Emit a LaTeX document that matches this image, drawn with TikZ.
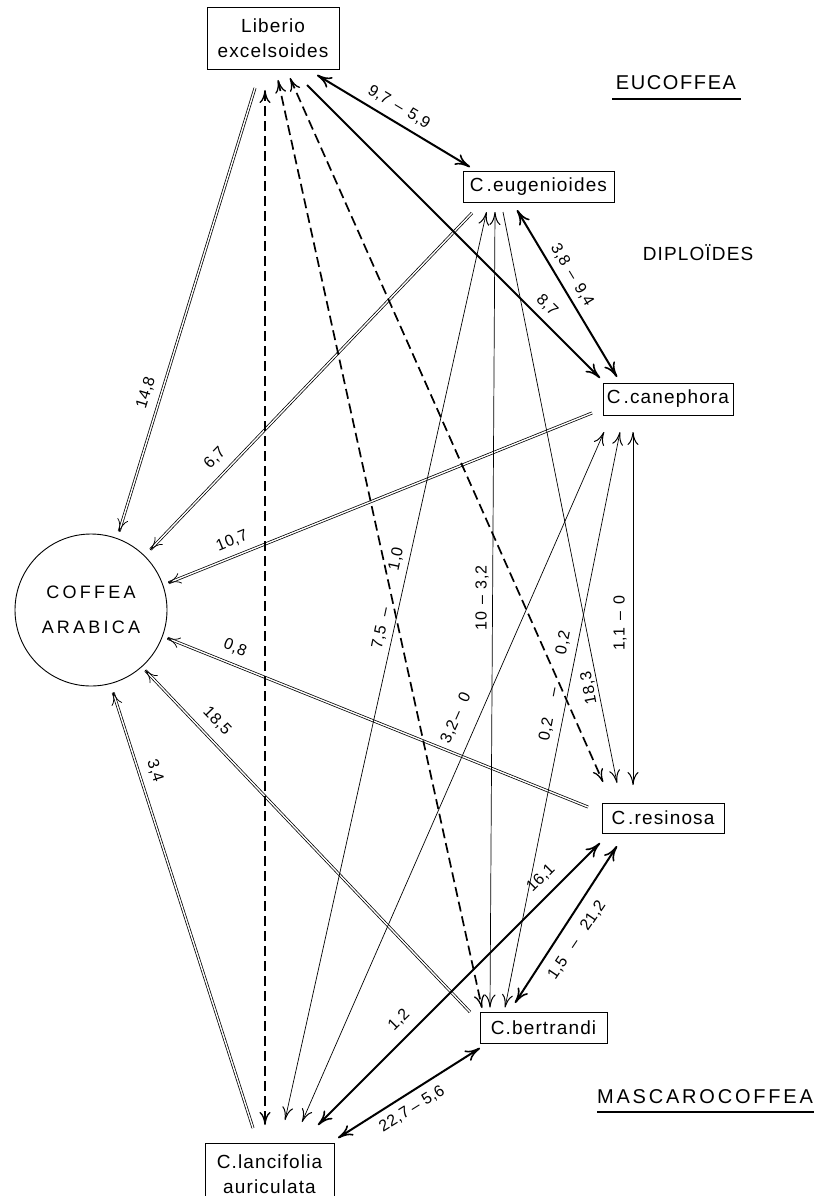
\documentclass[tikz,border=0pt]{standalone}
\usepackage{fontspec}
\setmainfont{Liberation Sans}
\usetikzlibrary{arrows.meta,calc}
\begin{document}
\begin{tikzpicture}[x=1pt,y=-1pt,
  box/.style={draw,line width=0.8pt,inner sep=0pt,align=center,font=\fontsize{19}{25}\selectfont\addfontfeatures{LetterSpace=6}},
  lab/.style={inner sep=0pt,font=\fontsize{16}{16}\selectfont\addfontfeatures{LetterSpace=3}},
  grp/.style={inner sep=0pt,font=\fontsize{20}{20}\selectfont\addfontfeatures{LetterSpace=8}},
  fine/.style={line width=0.7pt,>={Computer Modern Rightarrow[length=13pt,width=11pt,line width=1pt]}},
  heavy/.style={line width=2pt,>={Computer Modern Rightarrow[length=15pt,width=12pt,line width=1.6pt]}},
  dsh/.style={line width=1.7pt,dash pattern=on 10pt off 5pt,>={Computer Modern Rightarrow[length=13pt,width=11pt,line width=1.3pt]}},
  dbl/.style={double,line width=0.75pt,double distance=1.4pt,>={Computer Modern Rightarrow[length=13pt,width=11pt]}},
]
\clip (0,0) rectangle (817,1196);
\fill[white] (0,0) rectangle (817,1196);

% nodes
\node[box,minimum width=132pt,minimum height=62pt] (lib) at (273,38) {Liberio\\excelsoides};
\node[box,minimum width=151pt,minimum height=31pt] (eug) at (538.5,186.5) {C\kern3pt.eugenioides};
\node[box,minimum width=130pt,minimum height=32pt] (can) at (668,399) {C\kern3pt.canephora};
\node[box,minimum width=122pt,minimum height=30pt] (res) at (663,818) {C\kern3pt.resinosa};
\node[box,minimum width=127pt,minimum height=31pt] (ber) at (543.5,1027.5) {C.bertrandi};
\node[box,minimum width=129pt,minimum height=62pt] (lan) at (269.5,1174) {C.lancifolia\\auriculata};
\node[draw,circle,line width=0.9pt,minimum size=152pt,inner sep=0pt,align=center,
  font=\fontsize{18}{35}\selectfont\addfontfeatures{LetterSpace=18}] (cof) at (91,610) {COFFEA\\ARABICA};

% group titles
\node[grp] (euc) at (676,83) {EUCOFFEA};
\node[grp,font=\fontsize{19}{19}\selectfont\addfontfeatures{LetterSpace=6}] (dip) at (698,253) {DIPLOÏDES};
\node[grp,font=\fontsize{20}{20}\selectfont\addfontfeatures{LetterSpace=14}] (mas) at (705,1097) {MASCAROCOFFEA};
\coordinate (eu1) at (612,99); \coordinate (eu2) at (741,99);
\coordinate (ma1) at (597,1112); \coordinate (ma2) at (814,1112);
\draw[line width=1.2pt] (eu1) -- (eu2);
\draw[line width=1.2pt] (ma1) -- (ma2);

% double lines into Coffea arabica
\draw[dbl,->] ($(lib)+(-18,50)$) -- ($(cof)+(28,-78)$);
\draw[dbl,->] ($(eug)+(-66.5,26.5)$) -- ($(cof)+(59,-60)$);
\draw[dbl,->] ($(can)+(-76,14)$) -- ($(cof)+(77,-27)$);
\draw[dbl,->] ($(res)+(-75,-11)$) -- ($(cof)+(76,28)$);
\draw[dbl,->] ($(ber)+(-73.5,-15.5)$) -- ($(cof)+(54,60)$);
\draw[dbl,->] ($(lan)+(-16.5,-46)$) -- ($(cof)+(22,82)$);

% dashed lines from Liberio
\draw[dsh,<->] ($(lib)+(-8,52)$) -- ($(lan)+(-4.5,-49)$);
\draw[dsh,<->] ($(lib)+(5,42)$) -- ($(ber)+(-61.5,-19.5)$);
\draw[dsh,<->] ($(lib)+(17,40)$) -- ($(res)+(-60,-36)$);

% heavy lines
\draw[heavy,<->] ($(lib)+(44,37)$) -- ($(eug)+(-68.5,-19.5)$);
\draw[heavy,->] ($(lib)+(34,47)$) -- ($(can)+(-68,-21)$);
\draw[heavy,<->] ($(eug)+(-21.5,23.5)$) -- ($(can)+(-51,-22)$);
\draw[heavy,<->] ($(res)+(-63,25)$) -- ($(lan)+(48.5,-49)$);
\draw[heavy,<->] ($(res)+(-46,28)$) -- ($(ber)+(-28.5,-24.5)$);
\draw[heavy,<->] ($(ber)+(-63.5,20.5)$) -- ($(lan)+(68.5,-36)$);

% fine lines
\draw[fine,<->] ($(eug)+(-52,25.5)$) -- ($(lan)+(15.5,-54)$);
\draw[fine,<->] ($(eug)+(-43.5,25.5)$) -- ($(ber)+(-53.5,-20)$);
\draw[fine,->] ($(eug)+(-35.5,25.5)$) -- ($(res)+(-46,-35)$);
\draw[fine,<->] ($(can)+(-64,33)$) -- ($(lan)+(32.5,-52)$);
\draw[fine,<->] ($(can)+(-48,33)$) -- ($(ber)+(-38.5,-20)$);
\draw[fine,<->] ($(can)+(-35,33)$) -- ($(res)+(-30,-33)$);

% labels
\node[lab,rotate=73] (l1) at (146,393) {14,8};
\node[lab,rotate=46] (l2) at (215,458) {6,7};
\node[lab,rotate=22] (l3) at (232,541) {10,7};
\node[lab,rotate=-22] (l4) at (235,648) {0,8};
\node[lab,rotate=-46] (l5) at (217,721) {18,5};
\node[lab,rotate=-72] (l6) at (155,771) {3,4};
\node[lab,rotate=-31] (l7) at (399,107) {9,7\hspace{7pt}–\hspace{7pt}5,9};
\node[lab,rotate=-45] (l8) at (547,305) {8,7};
\node[lab,rotate=-59] (l9) at (572,275) {3,8\hspace{7pt}–\hspace{7pt}9,4};
\node[lab,rotate=78] (l10) at (388,598) {7,5\hspace{10pt}–\hspace{38pt}1,0};
\node[lab,rotate=90] (l11) at (482,598) {10\hspace{7pt}–\hspace{7pt}3,2};
\node[lab,rotate=101] (l12) at (589,688) {18,3};
\node[lab,rotate=66] (l13) at (456,718) {3,2\hspace{2pt}–\hspace{10pt}0};
\node[lab,rotate=79] (l14) at (555,686) {0,2\hspace{22pt}–\hspace{34pt}0,2};
\node[lab,rotate=90] (l15) at (620,623) {1,1\hspace{7pt}–\hspace{7pt}0};
\node[lab,rotate=45] (l16) at (541,878) {16,1};
\node[lab,rotate=45] (l17) at (399,1020) {1,2};
\node[lab,rotate=56] (l18) at (577,940) {1,5\hspace{13pt}–\hspace{13pt}21,2};
\node[lab,rotate=32] (l19) at (412,1109) {22,7\hspace{4pt}–\hspace{5pt}5,6};
\end{tikzpicture}
\end{document}
